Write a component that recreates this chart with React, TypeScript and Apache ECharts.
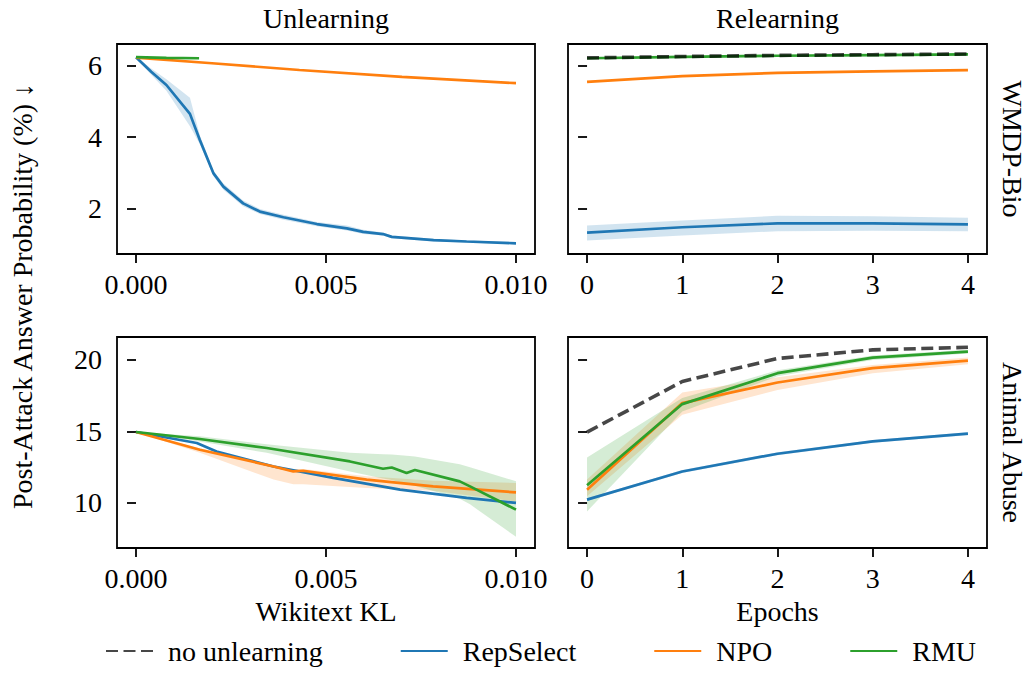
import React, { useEffect, useRef } from "react";
import * as echarts from "echarts";

// ---------- Data ----------
const KL_TICKS = [0, 0.005, 0.01];
const EPOCH_TICKS = [0, 1, 2, 3, 4];
const BIO_Y_TICKS = [2, 4, 6];
const ABUSE_Y_TICKS = [10, 15, 20];
const EPOCHS = [0, 1, 2, 3, 4];

// Unlearning, WMDP-Bio
const ulBioRepX = [0, 0.0004, 0.0008, 0.00142, 0.00168, 0.00204, 0.0023, 0.00282, 0.00326, 0.00388, 0.00476, 0.00555, 0.00598, 0.0065, 0.00673, 0.00783, 0.0087, 0.01];
const ulBioRepY = [6.24, 5.83, 5.46, 4.65, 3.92, 2.98, 2.61, 2.14, 1.91, 1.75, 1.56, 1.44, 1.34, 1.28, 1.2, 1.11, 1.07, 1.02];
const ulBioRepHi = [6.26, 5.92, 5.62, 5.1, 4.05, 3.05, 2.7, 2.22, 1.98, 1.82, 1.62, 1.52, 1.4, 1.32, 1.24, 1.15, 1.1, 1.06];
const ulBioRepLo = [6.22, 5.75, 5.3, 4.3, 3.8, 2.9, 2.52, 2.06, 1.84, 1.68, 1.5, 1.38, 1.28, 1.24, 1.16, 1.07, 1.04, 0.99];
const ulBioNpoX = [0, 0.002, 0.0043, 0.007, 0.01];
const ulBioNpoY = [6.23, 6.07, 5.88, 5.69, 5.51];
const ulBioRmuX = [0, 0.0008, 0.00166];
const ulBioRmuY = [6.24, 6.22, 6.21];

// Relearning, WMDP-Bio
const rlBioNoneY = [6.22, 6.26, 6.29, 6.31, 6.33];
const rlBioRmuY = [6.21, 6.25, 6.28, 6.3, 6.32];
const rlBioNpoY = [5.55, 5.71, 5.8, 5.84, 5.88];
const rlBioRepY = [1.32, 1.47, 1.58, 1.58, 1.55];
const rlBioRepLo = [1.1, 1.24, 1.36, 1.37, 1.36];
const rlBioRepHi = [1.52, 1.66, 1.79, 1.78, 1.74];

// Unlearning, Animal Abuse
const ulAbRepX = [0, 0.0016, 0.00212, 0.00362, 0.00519, 0.00695, 0.0087, 0.01];
const ulAbRepY = [14.96, 14.19, 13.6, 12.55, 11.75, 10.93, 10.35, 10.0];
const ulAbNpoX = [0, 0.00168, 0.00362, 0.00414, 0.0044, 0.00607, 0.00782, 0.01];
const ulAbNpoY = [14.96, 13.72, 12.55, 12.2, 12.25, 11.63, 11.16, 10.74];
const ulAbNpoLo = [14.96, 13.5, 11.63, 11.3, 11.3, 11.05, 10.85, 10.1];
const ulAbNpoHi = [14.96, 13.83, 12.66, 12.35, 12.38, 11.86, 11.55, 11.4];
const ulAbRmuX = [0, 0.00168, 0.00344, 0.00563, 0.0065, 0.00673, 0.00712, 0.00734, 0.00852, 0.00879, 0.01];
const ulAbRmuY = [14.96, 14.47, 13.84, 12.9, 12.39, 12.48, 12.09, 12.3, 11.51, 11.16, 9.53];
const ulAbRmuHi = [14.96, 14.66, 14.1, 13.5, 13.4, 13.38, 13.3, 13.25, 12.7, 12.5, 11.51];
const ulAbRmuLo = [14.96, 14.3, 13.5, 12.2, 11.7, 11.6, 11.3, 11.2, 10.3, 9.9, 7.63];

// Relearning, Animal Abuse
const rlAbNoneY = [14.95, 18.49, 20.1, 20.7, 20.88];
const rlAbRmuY = [11.23, 16.91, 19.07, 20.16, 20.58];
const rlAbRmuLo = [9.41, 16.4, 18.86, 20.0, 20.45];
const rlAbRmuHi = [13.18, 17.33, 19.28, 20.3, 20.7];
const rlAbNpoY = [10.93, 16.98, 18.42, 19.42, 19.95];
const rlAbNpoLo = [10.46, 16.16, 17.9, 19.07, 19.7];
const rlAbNpoHi = [11.63, 17.72, 18.79, 19.65, 20.16];
const rlAbRepY = [10.23, 12.2, 13.44, 14.3, 14.84];
const rlAbRepLo = [10.13, 12.1, 13.34, 14.2, 14.74];
const rlAbRepHi = [10.33, 12.3, 13.54, 14.4, 14.94];

const LEGEND_NAMES = ["no unlearning", "RepSelect", "NPO", "RMU"];
const COLORS: Record<string, string> = {
  "no unlearning": "rgba(0,0,0,0.72)",
  RepSelect: "#1f77b4",
  NPO: "#ff7f0e",
  RMU: "#2ca02c",
};
const BAND_COLORS: Record<string, string> = {
  RepSelect: "rgba(31,119,180,0.2)",
  NPO: "rgba(255,127,14,0.2)",
  RMU: "rgba(44,160,44,0.2)",
};

const FONT = "Liberation Serif";
const FS = 28;

function pairs(xs: number[], ys: number[]) {
  return xs.map((x, i) => [x, ys[i]]);
}

function lineSeries(name: string, idx: number, xs: number[], ys: number[], z = 3) {
  const dashed = name === "no unlearning";
  return {
    type: "line",
    name,
    xAxisIndex: idx,
    yAxisIndex: idx,
    data: pairs(xs, ys),
    showSymbol: false,
    symbol: "none",
    z: dashed ? 5 : z,
    lineStyle: {
      color: COLORS[name],
      width: dashed ? 3.6 : 2.7,
      type: dashed ? [12, 5.5] : "solid",
    },
    itemStyle: { color: COLORS[name] },
    emphasis: { disabled: true },
  };
}

function bandSeries(name: string, idx: number, xs: number[], lo: number[], hi: number[]) {
  return {
    type: "custom",
    name: name + " band",
    xAxisIndex: idx,
    yAxisIndex: idx,
    z: 1,
    silent: true,
    data: xs.map((x, i) => [x, lo[i], hi[i]]),
    encode: { x: 0, y: [1, 2] },
    renderItem: (params: any, api: any) => {
      if (params.dataIndex !== 0) return null;
      const upper = xs.map((x, i) => api.coord([x, hi[i]]));
      const lower = xs.map((x, i) => api.coord([x, lo[i]])).reverse();
      return {
        type: "polygon",
        shape: { points: upper.concat(lower) },
        style: { fill: BAND_COLORS[name], stroke: "none" },
      };
    },
  };
}

const GRIDS = [
  { left: 117, top: 44, width: 418, height: 210 },
  { left: 568, top: 44, width: 419, height: 210 },
  { left: 117, top: 337, width: 418, height: 211 },
  { left: 568, top: 337, width: 419, height: 211 },
];

function xAxis(idx: number) {
  const isKL = idx % 2 === 0;
  const bottomRow = idx >= 2;
  const ticks = isKL ? KL_TICKS : EPOCH_TICKS;
  return {
    type: "value",
    gridIndex: idx,
    min: isKL ? -0.0005 : -0.2,
    max: isKL ? 0.0105 : 4.2,
    splitLine: { show: false },
    axisLine: { show: false },
    axisTick: { show: true, customValues: ticks, length: 9, lineStyle: { color: "#000", width: 1.8 } },
    axisLabel: {
      show: true,
      customValues: ticks,
      margin: 16,
      color: "#000",
      fontFamily: FONT,
      fontSize: FS,
      formatter: (v: number) => (isKL ? v.toFixed(3) : String(Math.round(v))),
    },
    name: bottomRow ? (isKL ? "Wikitext KL" : "Epochs") : "",
    nameLocation: "middle",
    nameGap: 49,
    nameTextStyle: { color: "#000", fontFamily: FONT, fontSize: FS },
  };
}

function yAxis(idx: number) {
  const bio = idx < 2;
  const ticks = bio ? BIO_Y_TICKS : ABUSE_Y_TICKS;
  return {
    type: "value",
    gridIndex: idx,
    min: bio ? 0.72 : 6.85,
    max: bio ? 6.61 : 21.6,
    splitLine: { show: false },
    axisLine: { show: false },
    axisTick: { show: true, customValues: ticks, length: 9, lineStyle: { color: "#000", width: 1.8 } },
    axisLabel: {
      show: idx % 2 === 0,
      customValues: ticks,
      margin: 15,
      color: "#000",
      fontFamily: FONT,
      fontSize: FS,
    },
  };
}

export default function App() {
  const ref = useRef<HTMLDivElement>(null);
  useEffect(() => {
    if (!ref.current) return;
    const chart = echarts.init(ref.current, undefined, { renderer: "svg" });
    const series: any[] = [
      // Panel 0: Unlearning, WMDP-Bio
      bandSeries("RepSelect", 0, ulBioRepX, ulBioRepLo, ulBioRepHi),
      lineSeries("RepSelect", 0, ulBioRepX, ulBioRepY),
      lineSeries("NPO", 0, ulBioNpoX, ulBioNpoY),
      lineSeries("RMU", 0, ulBioRmuX, ulBioRmuY),
      // Panel 1: Relearning, WMDP-Bio
      lineSeries("no unlearning", 1, EPOCHS, rlBioNoneY),
      bandSeries("RepSelect", 1, EPOCHS, rlBioRepLo, rlBioRepHi),
      lineSeries("RepSelect", 1, EPOCHS, rlBioRepY),
      lineSeries("NPO", 1, EPOCHS, rlBioNpoY),
      lineSeries("RMU", 1, EPOCHS, rlBioRmuY),
      // Panel 2: Unlearning, Animal Abuse
      bandSeries("NPO", 2, ulAbNpoX, ulAbNpoLo, ulAbNpoHi),
      bandSeries("RMU", 2, ulAbRmuX, ulAbRmuLo, ulAbRmuHi),
      lineSeries("RepSelect", 2, ulAbRepX, ulAbRepY),
      lineSeries("NPO", 2, ulAbNpoX, ulAbNpoY),
      lineSeries("RMU", 2, ulAbRmuX, ulAbRmuY),
      // Panel 3: Relearning, Animal Abuse
      lineSeries("no unlearning", 3, EPOCHS, rlAbNoneY),
      bandSeries("RepSelect", 3, EPOCHS, rlAbRepLo, rlAbRepHi),
      bandSeries("NPO", 3, EPOCHS, rlAbNpoLo, rlAbNpoHi),
      bandSeries("RMU", 3, EPOCHS, rlAbRmuLo, rlAbRmuHi),
      lineSeries("RepSelect", 3, EPOCHS, rlAbRepY),
      lineSeries("NPO", 3, EPOCHS, rlAbNpoY),
      lineSeries("RMU", 3, EPOCHS, rlAbRmuY),
    ];
    const textStyle = { fill: "#000", fontFamily: FONT, fontSize: FS };
    chart.setOption({
      animation: false,
      backgroundColor: "#fff",
      textStyle: { fontFamily: FONT },
      grid: GRIDS.map((g) => ({
        ...g,
        show: true,
        borderColor: "#000",
        borderWidth: 1.8,
        backgroundColor: "transparent",
        containLabel: false,
      })),
      xAxis: [0, 1, 2, 3].map(xAxis),
      yAxis: [0, 1, 2, 3].map(yAxis),
      legend: {
        data: LEGEND_NAMES,
        left: 100,
        top: 632,
        itemWidth: 47,
        itemHeight: 14,
        itemGap: 77,
        selectedMode: false,
        itemStyle: { opacity: 0 },
        textStyle: { color: "#000", fontFamily: FONT, fontSize: FS, padding: [0, 0, 0, 10] },
      },
      graphic: [
        { type: "text", x: 326, y: 18, style: { ...textStyle, text: "Unlearning", align: "center", verticalAlign: "middle" } },
        { type: "text", x: 777.5, y: 18, style: { ...textStyle, text: "Relearning", align: "center", verticalAlign: "middle" } },
        {
          type: "text", x: 1012, y: 149, rotation: -Math.PI / 2,
          style: { ...textStyle, text: "WMDP-Bio", align: "center", verticalAlign: "middle" },
        },
        {
          type: "text", x: 1012, y: 442.5, rotation: -Math.PI / 2,
          style: { ...textStyle, text: "Animal Abuse", align: "center", verticalAlign: "middle" },
        },
        {
          type: "text", x: 22, y: 296, rotation: Math.PI / 2,
          style: { ...textStyle, text: "Post-Attack Answer Probability (%) \u2193", align: "center", verticalAlign: "middle" },
        },
      ],
      series,
    });
    return () => chart.dispose();
  }, []);
  return (
    <div
      ref={ref}
      style={{ position: "fixed", left: 0, top: 0, width: 1028, height: 694, background: "#fff" }}
    />
  );
}
